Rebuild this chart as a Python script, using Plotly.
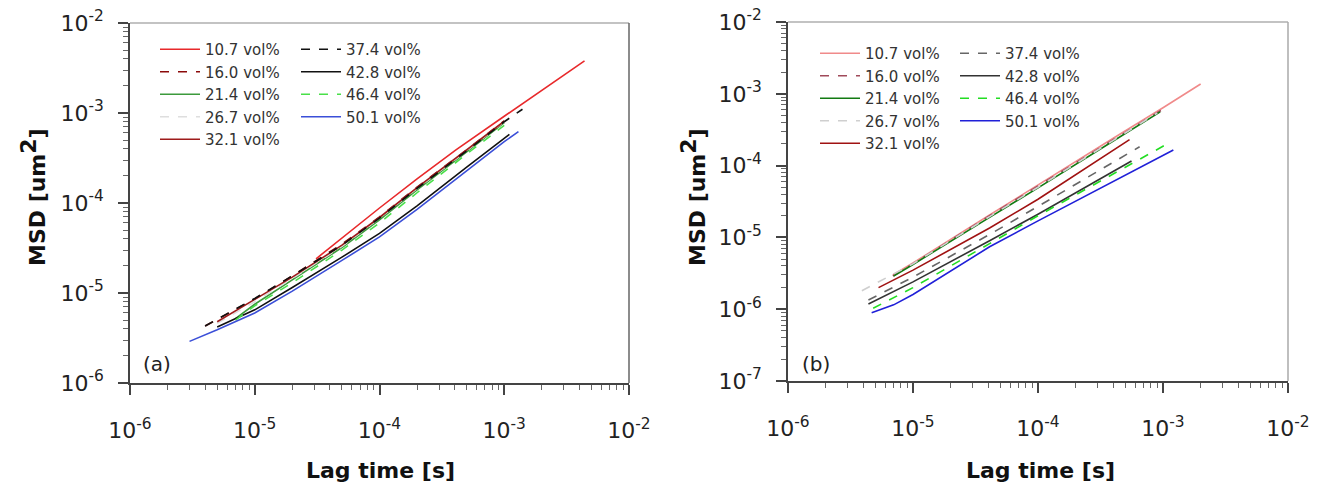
import plotly.graph_objects as go

labels = ["10.7 vol%", "16.0 vol%", "21.4 vol%", "26.7 vol%", "32.1 vol%",
          "37.4 vol%", "42.8 vol%", "46.4 vol%", "50.1 vol%"]

tick_vals_x = [1e-6, 1e-5, 1e-4, 1e-3, 1e-2]
tick_text_x = ["10<sup>-6</sup>", "10<sup>-5</sup>", "10<sup>-4</sup>", "10<sup>-3</sup>", "10<sup>-2</sup>"]
tick_vals_ya = [1e-6, 1e-5, 1e-4, 1e-3, 1e-2]
tick_text_ya = ["10<sup>-6</sup>", "10<sup>-5</sup>", "10<sup>-4</sup>", "10<sup>-3</sup>", "10<sup>-2</sup>"]
tick_vals_yb = [1e-7, 1e-6, 1e-5, 1e-4, 1e-3, 1e-2]
tick_text_yb = ["10<sup>-7</sup>", "10<sup>-6</sup>", "10<sup>-5</sup>", "10<sup>-4</sup>", "10<sup>-3</sup>", "10<sup>-2</sup>"]

# ---- panel (a) data: lag time [s], MSD [um^2]
a_x_107 = [3.1e-5, 5e-5, 1e-4, 2e-4, 4.1e-4, 1e-3, 2e-3, 4.4e-3]
a_y_107 = [2.4e-5, 4.1e-5, 8.8e-5, 1.85e-4, 3.9e-4, 9.2e-4, 1.8e-3, 3.8e-3]
a_x_160 = [4e-6, 7e-6, 1e-5, 2e-5, 5e-5, 1e-4, 2e-4, 5e-4, 1e-3]
a_y_160 = [4.3e-6, 6.5e-6, 8.6e-6, 1.55e-5, 3.5e-5, 7.0e-5, 1.5e-4, 3.9e-4, 8.2e-4]
a_x_214 = [7e-6, 1e-5, 2e-5, 5e-5, 1e-4, 2e-4, 5e-4, 1e-3]
a_y_214 = [5.2e-6, 7.5e-6, 1.4e-5, 3.2e-5, 6.5e-5, 1.4e-4, 3.7e-4, 7.8e-4]
a_x_267 = [5e-6, 1e-5, 2e-5, 5e-5, 1e-4, 2e-4, 5e-4, 1e-3]
a_y_267 = [4.6e-6, 8.0e-6, 1.45e-5, 3.3e-5, 6.8e-5, 1.45e-4, 3.8e-4, 8.0e-4]
a_x_321 = [5e-6, 1e-5, 2e-5, 5e-5, 1e-4, 2e-4, 5e-4, 1e-3]
a_y_321 = [4.8e-6, 8.4e-6, 1.5e-5, 3.4e-5, 6.9e-5, 1.48e-4, 3.85e-4, 8.1e-4]
a_x_374 = [4e-6, 7e-6, 1e-5, 2e-5, 5e-5, 1e-4, 2e-4, 5e-4, 1e-3, 1.4e-3]
a_y_374 = [4.3e-6, 6.6e-6, 8.7e-6, 1.55e-5, 3.4e-5, 6.8e-5, 1.45e-4, 3.8e-4, 8.0e-4, 1.1e-3]
a_x_428 = [5e-6, 1e-5, 2e-5, 5e-5, 1e-4, 2e-4, 5e-4, 1e-3, 1.1e-3]
a_y_428 = [4.2e-6, 6.5e-6, 1.15e-5, 2.5e-5, 4.6e-5, 9.3e-5, 2.5e-4, 5.2e-4, 5.8e-4]
a_x_464 = [7e-6, 1e-5, 2e-5, 5e-5, 1e-4, 2e-4, 5e-4, 1e-3]
a_y_464 = [5.0e-6, 7.2e-6, 1.3e-5, 3.0e-5, 6.0e-5, 1.3e-4, 3.5e-4, 7.3e-4]
a_x_501 = [3e-6, 5e-6, 1e-5, 2e-5, 5e-5, 1e-4, 2e-4, 5e-4, 1e-3, 1.3e-3]
a_y_501 = [2.9e-6, 3.9e-6, 6.0e-6, 1.05e-5, 2.3e-5, 4.2e-5, 8.5e-5, 2.3e-4, 4.8e-4, 6.2e-4]

# ---- panel (b) data
b_x_107 = [6.9e-6, 1e-5, 4.1e-5, 1e-4, 4e-4, 1e-3, 2.0e-3]
b_y_107 = [3.0e-6, 4.4e-6, 2.05e-5, 5.4e-5, 2.4e-4, 6.4e-4, 1.37e-3]
b_x_160 = [6.9e-6, 1e-5, 4.1e-5, 1e-4, 4e-4, 1e-3]
b_y_160 = [2.9e-6, 4.3e-6, 2.0e-5, 5.2e-5, 2.3e-4, 6.1e-4]
b_x_214 = [7e-6, 1e-5, 4.1e-5, 1e-4, 4e-4, 9.5e-4]
b_y_214 = [2.9e-6, 4.2e-6, 1.9e-5, 4.9e-5, 2.2e-4, 5.6e-4]
b_x_267 = [3.9e-6, 1e-5, 4.1e-5, 1e-4, 4e-4, 9e-4]
b_y_267 = [1.81e-6, 4.3e-6, 1.95e-5, 5.0e-5, 2.25e-4, 5.4e-4]
b_x_321 = [5.3e-6, 1e-5, 4.1e-5, 1e-4, 5.4e-4]
b_y_321 = [2.0e-6, 3.5e-6, 1.35e-5, 3.4e-5, 2.3e-4]
b_x_374 = [4.4e-6, 1e-5, 4.1e-5, 1e-4, 6.5e-4]
b_y_374 = [1.34e-6, 2.8e-6, 1.1e-5, 2.7e-5, 1.83e-4]
b_x_428 = [4.4e-6, 1e-5, 4.1e-5, 1e-4, 5.6e-4]
b_y_428 = [1.18e-6, 2.4e-6, 9.0e-6, 2.1e-5, 1.16e-4]
b_x_464 = [4.8e-6, 1e-5, 4.1e-5, 1e-4, 1.1e-3]
b_y_464 = [1.03e-6, 2.0e-6, 8.2e-6, 2.0e-5, 2.04e-4]
b_x_501 = [4.67e-6, 7e-6, 1e-5, 4.1e-5, 1e-4, 1.21e-3]
b_y_501 = [8.9e-7, 1.15e-6, 1.6e-6, 7.4e-6, 1.7e-5, 1.65e-4]

a_series = [(a_x_107, a_y_107), (a_x_160, a_y_160), (a_x_214, a_y_214), (a_x_267, a_y_267),
            (a_x_321, a_y_321), (a_x_374, a_y_374), (a_x_428, a_y_428), (a_x_464, a_y_464),
            (a_x_501, a_y_501)]
b_series = [(b_x_107, b_y_107), (b_x_160, b_y_160), (b_x_214, b_y_214), (b_x_267, b_y_267),
            (b_x_321, b_y_321), (b_x_374, b_y_374), (b_x_428, b_y_428), (b_x_464, b_y_464),
            (b_x_501, b_y_501)]

a_colors = ["#e8292b", "#8b0a0a", "#3c9a3c", "#dedede", "#9e1b1b", "#111111", "#111111", "#49e049", "#3b4fd8"]
a_dash = ["solid", "dash", "solid", "dash", "solid", "dash", "solid", "dash", "solid"]
b_colors = ["#f08a8a", "#a04a5a", "#127a12", "#cfcfcf", "#a01212", "#666666", "#333333", "#22dd22", "#2020d8"]
b_dash = ["solid", "dash", "solid", "dash", "solid", "dash", "solid", "dash", "solid"]

W, H = 1317, 495
FONT = "DejaVu Sans"

fig = go.Figure()
for i, (xs, ys) in enumerate(a_series):
    fig.add_trace(go.Scatter(x=xs, y=ys, mode="lines", name=labels[i],
                             line=dict(color=a_colors[i], dash=a_dash[i], width=1.6),
                             xaxis="x", yaxis="y",
                             legend="legend" if i < 5 else "legend2"))
for i, (xs, ys) in enumerate(b_series):
    fig.add_trace(go.Scatter(x=xs, y=ys, mode="lines", name=labels[i],
                             line=dict(color=b_colors[i], dash=b_dash[i], width=1.6),
                             xaxis="x2", yaxis="y2",
                             legend="legend3" if i < 5 else "legend4"))

def px_x(p):
    return p / W

def px_y(p):
    return 1 - p / H

minor_vals = [m * 10.0 ** e for e in range(-8, -1) for m in range(2, 10)]

axis_common = dict(type="log", showgrid=False, zeroline=False, showline=True, automargin=False,
                   linecolor="#444", linewidth=1.5, ticks="outside", ticklen=10,
                   tickwidth=1.5, tickcolor="#444", tickmode="array",
                   tickfont=dict(family=FONT, size=22, color="#222"),
                   minor=dict(ticks="outside", ticklen=5, tickwidth=1, tickcolor="#666",
                              tickmode="array", tickvals=minor_vals))

fig.update_layout(
    width=W, height=H, margin=dict(l=0, r=0, t=0, b=0, autoexpand=False),
    paper_bgcolor="white", plot_bgcolor="white",
    xaxis=dict(axis_common, domain=[px_x(130), px_x(629)], range=[-6, -2],
               tickvals=tick_vals_x, ticktext=tick_text_x, anchor="y", ticklabelstandoff=17),
    yaxis=dict(axis_common, domain=[px_y(383), px_y(23)], range=[-6, -2],
               tickvals=tick_vals_ya, ticktext=tick_text_ya, anchor="x", ticklabelstandoff=10),
    xaxis2=dict(axis_common, domain=[px_x(788), px_x(1288)], range=[-6, -2],
                tickvals=tick_vals_x, ticktext=tick_text_x, anchor="y2", ticklabelstandoff=17),
    yaxis2=dict(axis_common, domain=[px_y(381), px_y(22)], range=[-7, -2],
                tickvals=tick_vals_yb, ticktext=tick_text_yb, anchor="x2", ticklabelstandoff=10),
    showlegend=True,
)

leg_common = dict(bgcolor="rgba(0,0,0,0)", borderwidth=0, xanchor="left", yanchor="top",
                  font=dict(family=FONT, size=15, color="#333"), tracegroupgap=0,
                  orientation="v", itemwidth=40)
fig.update_layout(
    legend=dict(leg_common, x=px_x(155), y=px_y(33)),
    legend2=dict(leg_common, x=px_x(296), y=px_y(33)),
    legend3=dict(leg_common, x=px_x(815), y=px_y(37)),
    legend4=dict(leg_common, x=px_x(955), y=px_y(37)),
)

# frame lines (top and right)
for xr, yr, col in [("x", "y", "#666"), ("x2", "y2", "#aaa")]:
    fig.add_shape(type="line", xref=f"{xr} domain", yref=f"{yr} domain", x0=0, x1=1, y0=1, y1=1,
                  line=dict(color="#888", width=1.2))
    fig.add_shape(type="line", xref=f"{xr} domain", yref=f"{yr} domain", x0=1, x1=1, y0=0, y1=1,
                  line=dict(color=col, width=1.5))

ann_font_b = dict(family=FONT, size=22, color="#111")
title_y = "<b>MSD [um<sup><span style='font-size:22px'>2</span></sup>]</b>"
for xc in [33, 693]:
    fig.add_annotation(x=px_x(xc), y=px_y(197), xref="paper", yref="paper", text=title_y,
                       textangle=-90, showarrow=False, font=ann_font_b,
                       xanchor="center", yanchor="middle")
for xc in [380, 1040]:
    fig.add_annotation(x=px_x(xc), y=px_y(470), xref="paper", yref="paper",
                       text="<b>Lag time [s]</b>", showarrow=False, font=ann_font_b,
                       xanchor="center", yanchor="middle")
for xc, t in [(157, "(a)"), (816, "(b)")]:
    fig.add_annotation(x=px_x(xc), y=px_y(364), xref="paper", yref="paper", text=t,
                       showarrow=False, font=dict(family=FONT, size=20, color="#222"),
                       xanchor="center", yanchor="middle")

fig.write_html("out.html")
